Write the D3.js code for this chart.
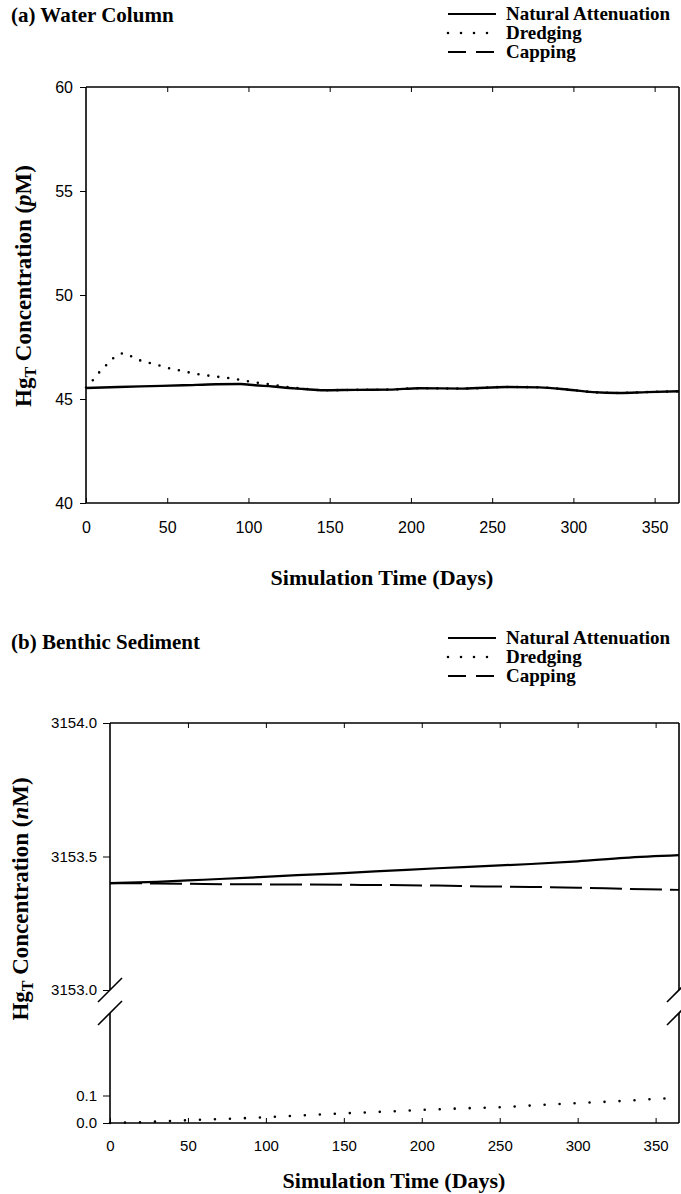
<!DOCTYPE html>
<html>
<head>
<meta charset="utf-8">
<script src="https://cdn.jsdelivr.net/npm/d3@7"></script>
<style>
  body { margin: 0; background: #fff; }
  svg { display: block; }
  .tick text { font-family: "Liberation Sans", Arial, sans-serif; fill: #000; }
</style>
</head>
<body>
<div id="chart"></div>
<script>
// values (days, concentration)
var daysA = [0, 20, 40, 60, 80, 95, 104, 115, 125, 134, 146, 166, 187, 205, 232, 259, 279, 296, 312, 328, 345, 365];
var naturalA = [45.53, 45.58, 45.62, 45.66, 45.71, 45.72, 45.66, 45.60, 45.53, 45.48, 45.42, 45.44, 45.45, 45.52, 45.50, 45.58, 45.56, 45.46, 45.33, 45.29, 45.33, 45.37];
var dredgeDaysA = [0, 4.5, 9, 14, 19, 24, 29, 35, 41, 47, 53, 59, 65, 71, 78, 84, 90, 96, 102, 108, 115, 121, 128, 134, 146, 166, 187, 205, 232, 259, 279, 296, 312, 328, 345, 365];
var dredgingA = [45.55, 45.93, 46.36, 46.74, 47.10, 47.20, 47.00, 46.81, 46.70, 46.57, 46.44, 46.36, 46.25, 46.17, 46.10, 46.04, 45.99, 45.90, 45.83, 45.75, 45.69, 45.60, 45.54, 45.50, 45.42, 45.44, 45.45, 45.52, 45.50, 45.58, 45.56, 45.46, 45.33, 45.29, 45.33, 45.37];

var daysB = [0, 30, 60, 90, 120, 150, 180, 210, 240, 270, 300, 330, 365];
var naturalB = [3153.400, 3153.405, 3153.413, 3153.421, 3153.430, 3153.438, 3153.447, 3153.456, 3153.464, 3153.472, 3153.482, 3153.495, 3153.505];
var cappingB = [3153.400, 3153.399, 3153.397, 3153.396, 3153.395, 3153.394, 3153.393, 3153.391, 3153.388, 3153.386, 3153.383, 3153.379, 3153.375];
var dredgeDaysB = [0, 25, 50, 75, 100, 125, 150, 175, 200, 225, 250, 275, 300, 325, 350, 365];
var dredgingB = [0, 0.004, 0.010, 0.015, 0.021, 0.028, 0.035, 0.041, 0.0475, 0.053, 0.0575, 0.065, 0.0725, 0.079, 0.0875, 0.091];

var xTicks = [0, 50, 100, 150, 200, 250, 300, 350];
var yTicksA = [40, 45, 50, 55, 60];
var yTicksUpper = [3153.0, 3153.5, 3154.0];
var yTicksLower = [0.0, 0.1];
var legendNames = ["Natural Attenuation", "Dredging", "Capping"];

var width = 681, height = 1194;
var serif = "'Liberation Serif', 'Times New Roman', serif";

var svg = d3.select('#chart').append('svg')
  .attr('width', width)
  .attr('height', height);

function zip(xs, ys) {
  return xs.map(function(d, i) { return [d, ys[i]]; });
}

function drawLine(g, data, x, y, style) {
  var line = d3.line()
    .x(function(d) { return x(d[0]); })
    .y(function(d) { return y(d[1]); })
    .curve(d3.curveMonotoneX);
  var p = g.append('path')
    .datum(data)
    .attr('d', line)
    .attr('fill', 'none')
    .attr('stroke', '#000')
    .attr('stroke-width', style.w);
  if (style.dash) p.attr('stroke-dasharray', style.dash);
  if (style.cap) p.attr('stroke-linecap', style.cap);
  return p;
}

function legend(top) {
  var styles = [
    { w: 2, dash: null },
    { w: 2.6, dash: '0,13', cap: 'round' },
    { w: 2, dash: '18,10' }
  ];
  legendNames.forEach(function(name, i) {
    var yy = top + i * 19;
    var g = svg.append('g');
    g.append('line')
      .attr('x1', 448).attr('x2', 496)
      .attr('y1', yy).attr('y2', yy)
      .attr('stroke', '#000')
      .attr('stroke-width', styles[i].w)
      .attr('stroke-dasharray', styles[i].dash)
      .attr('stroke-linecap', styles[i].cap || 'butt');
    g.append('text')
      .attr('x', 506).attr('y', yy + 6)
      .style('font-family', serif)
      .style('font-weight', 'bold')
      .style('font-size', '19px')
      .text(name);
  });
}

function title(txt, yy) {
  svg.append('text')
    .attr('x', 11).attr('y', yy)
    .style('font-family', serif)
    .style('font-weight', 'bold')
    .style('font-size', '21px')
    .text(txt);
}

function yTitle(cx, cy, unit) {
  var t = svg.append('text')
    .attr('transform', 'translate(' + cx + ',' + cy + ') rotate(-90)')
    .attr('text-anchor', 'middle')
    .style('font-family', serif)
    .style('font-weight', 'bold')
    .style('font-size', '23px');
  t.append('tspan').text('Hg');
  t.append('tspan').attr('dy', 5).style('font-size', '16px').text('T');
  t.append('tspan').attr('dy', -5).text(' Concentration (');
  t.append('tspan').style('font-style', 'italic').text(unit);
  t.append('tspan').text('M)');
}

function xTitle(cx, yy) {
  svg.append('text')
    .attr('x', cx).attr('y', yy)
    .attr('text-anchor', 'middle')
    .style('font-family', serif)
    .style('font-weight', 'bold')
    .style('font-size', '22px')
    .text('Simulation Time (Days)');
}

function frameLine(x1, y1, x2, y2) {
  svg.append('line')
    .attr('x1', x1).attr('y1', y1).attr('x2', x2).attr('y2', y2)
    .attr('stroke', '#000')
    .attr('stroke-width', 1.6);
}

// ---------- (a) water column ----------
var xA = d3.scaleLinear().domain([0, 365]).range([86, 679]);
var yA = d3.scaleLinear().domain([40, 60]).range([503, 87]);

title('(a) Water Column', 22);
legend(14);

var gA = svg.append('g');
drawLine(gA, zip(dredgeDaysA, dredgingA), xA, yA, { w: 2.6, dash: '0,10', cap: 'round' });
drawLine(gA, zip(daysA, naturalA), xA, yA, { w: 2.4 });

frameLine(xA(0), yA(60), xA(365), yA(60));
frameLine(xA(0), yA(40), xA(365), yA(40));
frameLine(xA(0), yA(40), xA(0), yA(60));
frameLine(xA(365), yA(40), xA(365), yA(60));

svg.append('g')
  .attr('transform', 'translate(0,' + yA(40) + ')')
  .call(d3.axisBottom(xA).tickValues(xTicks).tickSize(-5).tickPadding(19).tickFormat(d3.format('d')))
  .call(function(g) { g.select('.domain').remove(); })
  .selectAll('text').style('font-size', '16px');
svg.append('g')
  .attr('transform', 'translate(0,' + yA(60) + ')')
  .call(d3.axisTop(xA).tickValues(xTicks.slice(1)).tickSize(-5).tickFormat(''))
  .call(function(g) { g.select('.domain').remove(); });
svg.append('g')
  .attr('transform', 'translate(' + xA(0) + ',0)')
  .call(d3.axisLeft(yA).tickValues(yTicksA).tickSize(6).tickPadding(7).tickFormat(d3.format('d')))
  .call(function(g) { g.select('.domain').remove(); })
  .selectAll('text').style('font-size', '16px');

yTitle(31, 286, 'p');
xTitle(382, 585);

// ---------- (b) benthic sediment ----------
var xB = d3.scaleLinear().domain([0, 365]).range([110, 679]);
var yUp = d3.scaleLinear().domain([3153.0, 3154.0]).range([990, 723]);
var yLow = d3.scaleLinear().domain([0, 0.4]).range([1123, 1013]);

title('(b) Benthic Sediment', 649);
legend(638);

var gB = svg.append('g');
drawLine(gB, zip(daysB, cappingB), xB, yUp, { w: 2, dash: '32,8' });
drawLine(gB, zip(daysB, naturalB), xB, yUp, { w: 2.2 });
drawLine(gB, zip(dredgeDaysB, dredgingB), xB, yLow, { w: 2.6, dash: '0,15', cap: 'round' });

frameLine(xB(0), yUp(3154), xB(365), yUp(3154));
frameLine(xB(0), yLow(0), xB(365), yLow(0));
[0, 365].forEach(function(d) {
  var xx = xB(d);
  frameLine(xx, yUp(3154), xx, yUp(3153));
  frameLine(xx, yLow(0.4), xx, yLow(0));
  // break marks
  [yUp(3153), yLow(0.4)].forEach(function(yy) {
    frameLine(xx - 12, yy + 12, xx + 12, yy - 12);
  });
});

svg.append('g')
  .attr('transform', 'translate(0,' + yLow(0) + ')')
  .call(d3.axisBottom(xB).tickValues(xTicks).tickSize(-5).tickPadding(17).tickFormat(d3.format('d')))
  .call(function(g) { g.select('.domain').remove(); })
  .selectAll('text').style('font-size', '15px');
svg.append('g')
  .attr('transform', 'translate(0,' + yUp(3154) + ')')
  .call(d3.axisTop(xB).tickValues(xTicks.slice(1)).tickSize(-5).tickFormat(''))
  .call(function(g) { g.select('.domain').remove(); });
svg.append('g')
  .attr('transform', 'translate(' + xB(0) + ',0)')
  .call(d3.axisLeft(yUp).tickValues(yTicksUpper).tickSize(7).tickPadding(6).tickFormat(d3.format('.1f')))
  .call(function(g) { g.select('.domain').remove(); })
  .selectAll('text').style('font-size', '15px');
svg.append('g')
  .attr('transform', 'translate(' + xB(0) + ',0)')
  .call(d3.axisLeft(yLow).tickValues(yTicksLower).tickSize(7).tickPadding(6).tickFormat(d3.format('.1f')))
  .call(function(g) { g.select('.domain').remove(); })
  .selectAll('text').style('font-size', '15px');

yTitle(28, 899, 'n');
xTitle(394, 1188);
</script>
</body>
</html>
